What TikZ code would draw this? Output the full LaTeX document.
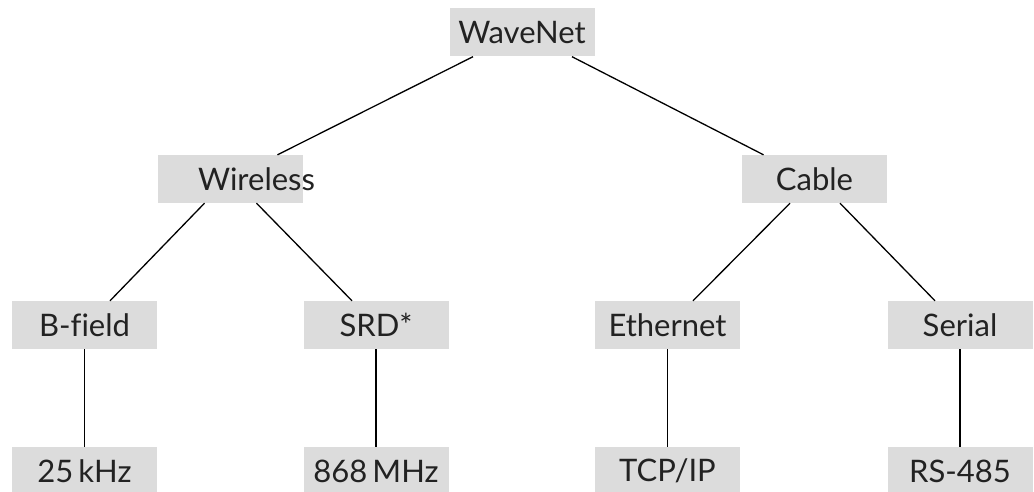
\documentclass[tikz,border=0pt]{standalone}
\usepackage{fontspec}
\setmainfont[Ligatures=NoCommon]{Lato}
\usepackage{xcolor}
\definecolor{boxgray}{HTML}{DCDCDC}
\definecolor{textgray}{HTML}{222222}
\tikzset{link/.style={line width=1.3pt,black}}

\begin{document}
\begin{tikzpicture}
        [
            x=1pt,y=-1pt,
            box/.style={rectangle,fill=boxgray,inner sep=0pt,minimum width=145pt,minimum height=48pt,text=textgray,font=\fontsize{31}{36}\selectfont},
        ]
    \useasboundingbox (0,0) rectangle (1034,492);

    % levels
    \node[box] (wn) at (522,32.5){WaveNet};
    \node[box,label={[text=textgray,font=\fontsize{31}{36}\selectfont,xshift=26pt]center:Wireless}] (wl) at (230.5,179){};
    \node[box] (cb) at (814.5,179){Cable};
    \node[box] (bf) at (84.5,325){B-field};
    \node[box] (srd) at (376,325){SRD*};
    \node[box] (eth) at (667.5,325){Ethernet};
    \node[box] (ser) at (960,325){Serial};
    \node[box] (khz) at (84.5,471){25\,kHz};
    \node[box] (mhz) at (376,471){868\,MHz};
    \node[box] (tcp) at (667.5,471){TCP/IP};
    \node[box] (rs) at (960,471){RS-485};

    \draw[link] ([xshift=-49pt]wn.south) -- ([xshift=47pt]wl.north);
    \draw[link] ([xshift=50pt]wn.south) -- ([xshift=-51pt]cb.north);
    \draw[link] ([xshift=-26pt]wl.south) -- ([xshift=25.5pt]bf.north);
    \draw[link] ([xshift=26pt]wl.south) -- ([xshift=-24pt]srd.north);
    \draw[link] ([xshift=-24.5pt]cb.south) -- ([xshift=25.5pt]eth.north);
    \draw[link] ([xshift=25.5pt]cb.south) -- ([xshift=-25pt]ser.north);
    \draw[link] (bf) -- (khz);
    \draw[link] (srd) -- (mhz);
    \draw[link] (eth) -- (tcp);
    \draw[link] (ser) -- (rs);
    \end{tikzpicture}
\end{document}
